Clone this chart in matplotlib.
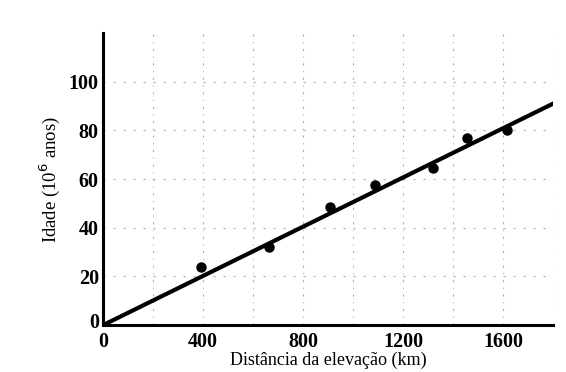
import numpy as np
import matplotlib.pyplot as plt
from matplotlib.transforms import ScaledTranslation

plt.rcParams['font.family'] = ['Liberation Serif', 'DejaVu Serif']

# dados
distancia = [390, 665, 910, 1090, 1320, 1455, 1615]
idade = [24, 32, 48.5, 57.5, 64.5, 77, 80]
reta_x = [0, 1800]
reta_y = [0, 91]
xticks = [0, 400, 800, 1200, 1600]
yticks = [0, 20, 40, 60, 80, 100]

fig = plt.figure(figsize=(5.66, 3.72), dpi=100)
ax = fig.add_axes([0.182, 0.126, 0.795, 0.785])

ax.plot(reta_x, reta_y, color='black', lw=3, zorder=3)
ax.plot(distancia, idade, 'o', color='black', ms=6.5, zorder=4)

ax.set_xlim(0, 1800)
ax.set_ylim(0, 120)
ax.set_xticks(xticks)
ax.set_yticks(yticks)
ax.set_xticks(np.arange(0, 1801, 200), minor=True)
ax.tick_params(which='both', length=0, labelsize=14.5)
ax.tick_params(axis='x', pad=5)
ax.tick_params(axis='y', pad=3)
for t in ax.get_xticklabels() + ax.get_yticklabels():
    t.set_fontweight('bold')
# o "0" do eixo y fica um pouco acima do canto
lab0 = ax.get_yticklabels()[0]
lab0.set_transform(lab0.get_transform() + ScaledTranslation(0, 3 / 72, fig.dpi_scale_trans))
ax.grid(True, which='both', axis='x', color='#b0b0b0', ls=(0, (2, 5, 1, 5)), lw=0.8)
ax.grid(True, which='major', axis='y', color='#b0b0b0', ls=(0, (2, 7)), lw=0.8)

for s in ['top', 'right']:
    ax.spines[s].set_visible(False)
for s in ['left', 'bottom']:
    ax.spines[s].set_linewidth(2.2)

ax.set_xlabel('Distância da elevação (km)', fontsize=13, labelpad=0)
ax.set_ylabel('Idade (10$^6$ anos)', fontsize=13.5, labelpad=5)

fig.savefig('out.png', dpi=100)
